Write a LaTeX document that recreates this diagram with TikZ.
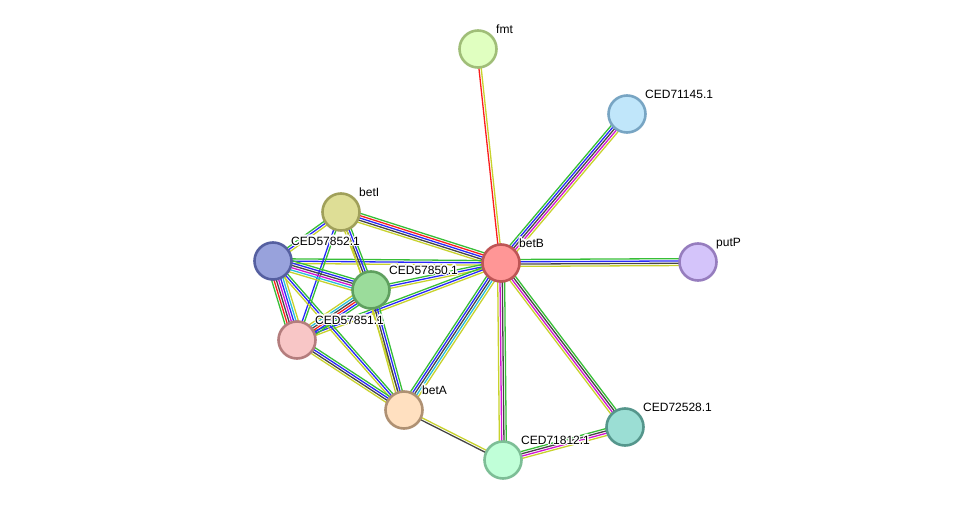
\documentclass[tikz,border=0pt]{standalone}
\usepackage{fontspec}
\setmainfont{Liberation Sans}
\usepackage[copies]{contour}
\contourlength{1.2pt}
\contournumber{12}
\usetikzlibrary{calc,positioning,backgrounds}
\definecolor{linkGreen}{RGB}{55,190,55}
\definecolor{linkBlue}{RGB}{40,40,250}
\definecolor{linkBlack}{RGB}{70,70,70}
\definecolor{linkMagenta}{RGB}{210,20,210}
\definecolor{linkCyan}{RGB}{40,190,220}
\definecolor{linkRed}{RGB}{250,30,30}
\definecolor{linkYellow}{RGB}{200,210,45}
\definecolor{fmtFill}{RGB}{224,255,192}\definecolor{fmtLine}{RGB}{160,190,120}
\definecolor{cedAFill}{RGB}{192,230,250}\definecolor{cedALine}{RGB}{120,165,195}
\definecolor{betIFill}{RGB}{222,222,150}\definecolor{betILine}{RGB}{160,160,90}
\definecolor{cedBFill}{RGB}{152,162,220}\definecolor{cedBLine}{RGB}{85,95,160}
\definecolor{betBFill}{RGB}{255,150,150}\definecolor{betBLine}{RGB}{190,85,85}
\definecolor{putPFill}{RGB}{212,196,250}\definecolor{putPLine}{RGB}{150,125,190}
\definecolor{cedCFill}{RGB}{155,220,155}\definecolor{cedCLine}{RGB}{95,160,95}
\definecolor{cedDFill}{RGB}{248,198,198}\definecolor{cedDLine}{RGB}{180,125,125}
\definecolor{betAFill}{RGB}{255,224,192}\definecolor{betALine}{RGB}{175,145,115}
\definecolor{cedEFill}{RGB}{192,255,216}\definecolor{cedELine}{RGB}{125,190,150}
\definecolor{cedFFill}{RGB}{155,222,212}\definecolor{cedFLine}{RGB}{85,150,140}
\newcommand{\LinkEdge}[3]{%
  \foreach \c [count=\n] in {#3} {\xdef\linkCount{\n}}%
  \foreach \c [count=\i] in {#3} {%
    \pgfmathsetmacro\linkOff{(\i-(\linkCount+1)/2)*2.3}%
    \draw[line width=1.3pt,draw=\c] ($(#1)!\linkOff pt!90:(#2)$) -- ($(#2)!\linkOff pt!-90:(#1)$);
  }}
\newcommand{\Protein}[3]{%
  \node[protein,fill=#1Fill,draw=#1Line] (#1) at (#2) {};
  \node[plabel] (#1lab) at ($(#1)+(18,-16)$) {\contour{white}{#3}};}

\begin{document}
\begin{tikzpicture}[x=1pt,y=-1pt,
  protein/.style={circle,minimum size=37pt,inner sep=0pt,line width=2.6pt},
  plabel/.style={anchor=base west,inner sep=0pt,font=\fontsize{12}{14}\selectfont}]
\useasboundingbox (0,0) rectangle (975,506);
\Protein{fmt}{478,49}{fmt}
\Protein{cedA}{627,114}{CED71145.1}
\Protein{betI}{341,212}{betI}
\Protein{cedB}{273,261}{CED57852.1}
\Protein{betB}{501,263}{betB}
\Protein{putP}{698,262}{putP}
\Protein{cedC}{371,290}{CED57850.1}
\Protein{cedD}{297,340}{CED57851.1}
\Protein{betA}{404,410}{betA}
\Protein{cedE}{503,460}{CED71812.1}
\Protein{cedF}{625,427}{CED72528.1}

% evidence links
\begin{pgfonlayer}{background}
\LinkEdge{fmt}{betB}{linkRed,linkYellow}
\LinkEdge{cedA}{betB}{linkGreen,linkBlue,linkBlack,linkMagenta,linkYellow}
\LinkEdge{betB}{putP}{linkYellow,linkBlack,linkBlue,linkGreen}
\LinkEdge{betB}{cedF}{linkYellow,linkMagenta,linkBlack,linkGreen}
\LinkEdge{betB}{cedE}{linkYellow,linkMagenta,linkBlack,linkGreen}
\LinkEdge{cedE}{cedF}{linkYellow,linkMagenta,linkBlack,linkGreen}
\LinkEdge{betA}{cedE}{linkBlack,linkYellow}
\LinkEdge{betA}{betB}{linkYellow,linkCyan,linkBlack,linkBlue,linkGreen}
\LinkEdge{betI}{betB}{linkYellow,linkBlack,linkBlue,linkRed,linkGreen}
\LinkEdge{cedB}{betB}{linkYellow,linkBlue,linkGreen}
\LinkEdge{cedC}{betB}{linkYellow,linkBlue,linkGreen}
\LinkEdge{cedD}{betB}{linkYellow,linkBlue,linkGreen}
\LinkEdge{cedB}{betI}{linkYellow,linkBlue,linkGreen}
\LinkEdge{betI}{cedC}{linkYellow,linkBlack,linkBlue,linkGreen}
\LinkEdge{betI}{cedD}{linkBlue,linkGreen}
\LinkEdge{betI}{betA}{linkYellow}
\LinkEdge{cedB}{cedC}{linkYellow,linkCyan,linkMagenta,linkBlack,linkBlue,linkGreen}
\LinkEdge{cedB}{cedD}{linkGreen,linkRed,linkBlack,linkMagenta,linkBlue,linkCyan,linkYellow}
\LinkEdge{cedB}{betA}{linkYellow,linkBlue,linkGreen}
\LinkEdge{cedC}{cedD}{linkYellow,linkCyan,linkBlack,linkRed,linkBlue,linkGreen}
\LinkEdge{cedC}{betA}{linkYellow,linkBlack,linkBlue,linkGreen}
\LinkEdge{cedD}{betA}{linkYellow,linkBlack,linkBlue,linkGreen}
\end{pgfonlayer}
\end{tikzpicture}
\end{document}
